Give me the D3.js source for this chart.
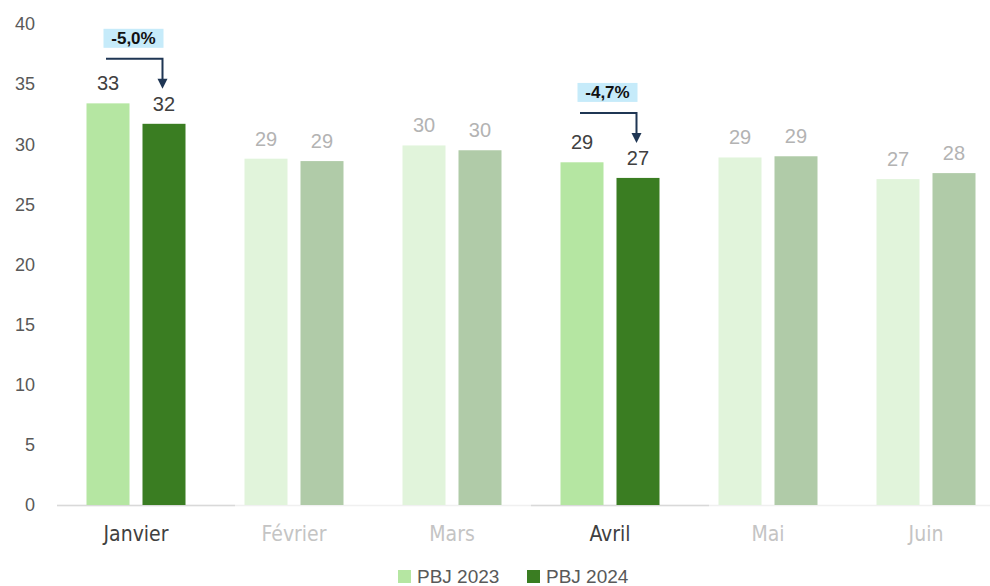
<!DOCTYPE html>
<html>
<head>
<meta charset="utf-8">
<script src="https://cdn.jsdelivr.net/npm/d3@7"></script>
<style>
  body { margin: 0; background: #fff; }
  text { font-family: "Liberation Sans", Arial, sans-serif; }
  .cat { font-family: Bahnschrift, "DejaVu Sans Condensed", "Liberation Sans Narrow", sans-serif; font-stretch: condensed; }
</style>
</head>
<body>
<div id="chart"></div>
<script>
// values
const months = ["Janvier", "Février", "Mars", "Avril", "Mai", "Juin"];
const pbj2023 = [33.4, 28.8, 29.9, 28.5, 28.9, 27.1];
const pbj2024 = [31.7, 28.6, 29.5, 27.2, 29.0, 27.6];
const seriesNames = ["PBJ 2023", "PBJ 2024"];
const yTicks = [0, 5, 10, 15, 20, 25, 30, 35, 40];
const highlighted = ["Janvier", "Avril"];
const annotMonths = ["Janvier", "Avril"];
const annotTexts = ["-5,0%", "-4,7%"];

const W = 990, H = 586;
const colHi = ["#b5e6a2", "#3a7d22"];
const colLo = ["#e1f4db", "#b0cba8"];

const svg = d3.select("#chart").append("svg")
  .attr("width", W).attr("height", H);

const x = d3.scaleBand().domain(months).range([57, 1005]);
const x1 = d3.scaleBand().domain(seriesNames).range([29.5, 128.5]).paddingInner(0.232);
const y = d3.scaleLinear().domain([0, 40]).range([505, 24]);

const isHi = m => highlighted.includes(m);

// y tick labels
svg.append("g").selectAll("text").data(yTicks).enter().append("text")
  .attr("x", 35).attr("y", d => y(d)).attr("dy", "0.35em")
  .attr("text-anchor", "end").attr("font-size", 18).attr("fill", "#595959")
  .text(d => d);

// axis baseline, darker under highlighted months
svg.append("line").attr("x1", 57).attr("x2", W).attr("y1", 505.5).attr("y2", 505.5)
  .attr("stroke", "#f0f0f0").attr("stroke-width", 1.5);
svg.append("g").selectAll("line").data(highlighted).enter().append("line")
  .attr("x1", d => x(d)).attr("x2", d => x(d) + x.bandwidth() + 20)
  .attr("y1", 505.5).attr("y2", 505.5)
  .attr("stroke", "#d9d9d9").attr("stroke-width", 1.5);

const rows = months.map((m, i) => ({ month: m, vals: [pbj2023[i], pbj2024[i]] }));

const groups = svg.append("g").selectAll("g").data(rows).enter().append("g")
  .attr("transform", d => `translate(${x(d.month)},0)`);

groups.selectAll("rect").data(d => d.vals.map((v, j) => ({ month: d.month, v, j }))).enter()
  .append("rect")
  .attr("x", d => x1(seriesNames[d.j]))
  .attr("width", x1.bandwidth())
  .attr("y", d => y(d.v))
  .attr("height", d => y(0) - y(d.v))
  .attr("fill", d => (isHi(d.month) ? colHi : colLo)[d.j]);

groups.selectAll("text.lab").data(d => d.vals.map((v, j) => ({ month: d.month, v, j }))).enter()
  .append("text").attr("class", "lab")
  .attr("x", d => x1(seriesNames[d.j]) + x1.bandwidth() / 2)
  .attr("y", d => y(d.v) - 13)
  .attr("text-anchor", "middle").attr("font-size", 20)
  .attr("fill", d => isHi(d.month) ? "#404040" : "#b3b3b3")
  .text(d => Math.round(d.v));

// category labels
svg.append("g").selectAll("text").data(months).enter().append("text")
  .attr("class", "cat")
  .attr("x", d => x(d) + x.bandwidth() / 2).attr("y", 541)
  .attr("text-anchor", "middle").attr("font-size", 21)
  .attr("fill", d => isHi(d) ? "#404040" : "#c4c4c4")
  .text(d => d);

// annotations
annotMonths.forEach((m, k) => {
  const i = months.indexOf(m);
  const cx0 = x(m) + x1(seriesNames[0]) + x1.bandwidth() / 2 - 2;
  const cx1 = x(m) + x1(seriesNames[1]) + x1.bandwidth() / 2 - 1.5;
  const tip = y(pbj2024[i]) - 35;
  const ly = tip - 30;
  const bx = x(m) + x.bandwidth() / 2 - 2.5;
  const g = svg.append("g");
  g.append("rect").attr("x", bx - 30).attr("y", ly - 30).attr("width", 60).attr("height", 19)
    .attr("fill", "#c6ebfa");
  g.append("text").attr("x", bx).attr("y", ly - 20.5).attr("dy", "0.35em")
    .attr("text-anchor", "middle").attr("font-size", 17).attr("font-weight", "bold")
    .attr("fill", "#111").text(annotTexts[k]);
  g.append("path")
    .attr("d", `M${cx0},${ly}H${cx1}V${tip - 9}`)
    .attr("fill", "none").attr("stroke", "#1f3654").attr("stroke-width", 2);
  g.append("path")
    .attr("d", `M${cx1 - 5},${tip - 10}L${cx1 + 5},${tip - 10}L${cx1},${tip}Z`)
    .attr("fill", "#1f3654");
});

// legend
const legX = [398, 527];
const leg = svg.append("g").selectAll("g").data(seriesNames).enter().append("g")
  .attr("transform", (d, i) => `translate(${legX[i]},570)`);
leg.append("rect").attr("width", 13).attr("height", 13).attr("fill", (d, i) => colHi[i]);
leg.append("text").attr("x", 19).attr("y", 13).attr("font-size", 19).attr("fill", "#595959")
  .text(d => d);
</script>
</body>
</html>
